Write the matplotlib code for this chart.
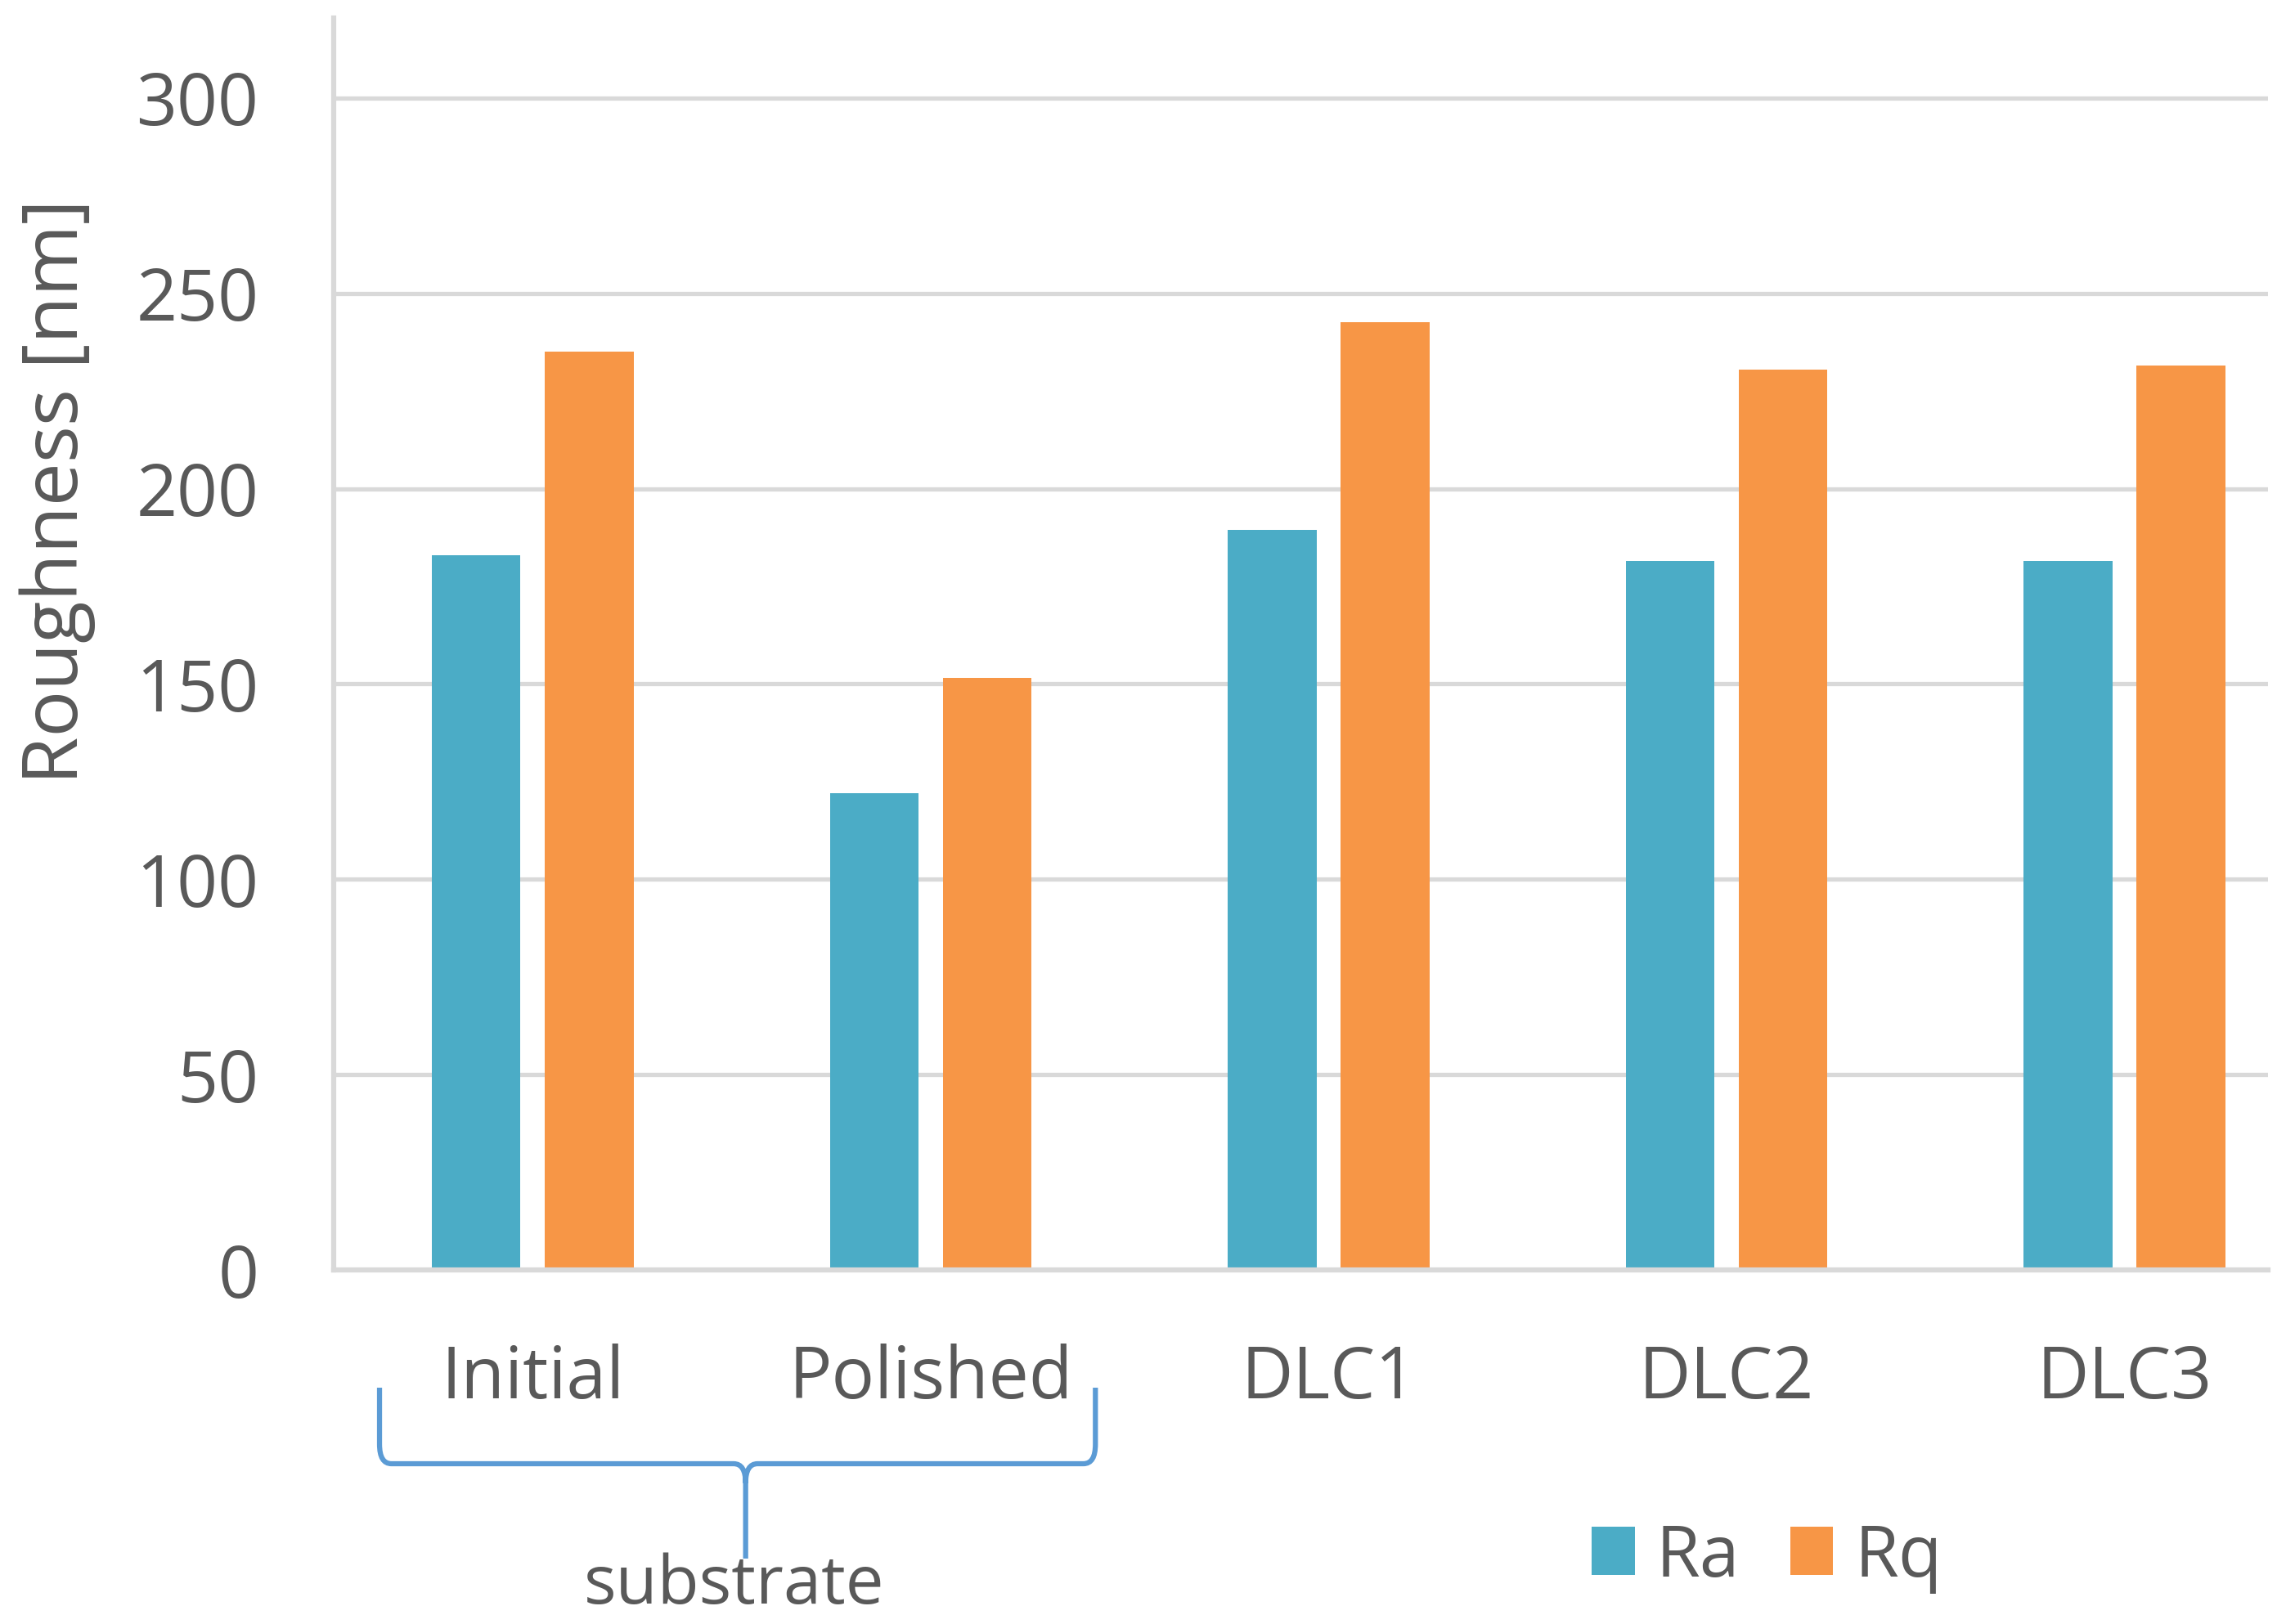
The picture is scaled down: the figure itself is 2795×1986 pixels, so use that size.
import matplotlib
matplotlib.use("Agg")
import matplotlib.pyplot as plt
from matplotlib.transforms import blended_transform_factory
from matplotlib.path import Path
from matplotlib.patches import PathPatch
import numpy as np

categories = ["Initial", "Polished", "DLC1", "DLC2", "DLC3"]
ra_values = [183, 122, 189.5, 181.5, 181.5]
rq_values = [235, 151.5, 242.5, 230.5, 231.5]
series_names = ["Ra", "Rq"]
yticks = [0, 50, 100, 150, 200, 250, 300]
group_label = "substrate"

plt.rcParams['font.family'] = ['Open Sans', 'DejaVu Sans']

TXT = "#595959"
GRID = "#D9D9D9"
C_RA = "#4BACC6"
C_RQ = "#F79646"
BRACE = "#5B9BD5"
FS = 63

fig = plt.figure(figsize=(27.95, 19.86), dpi=100)
ax = fig.add_axes([0.146, 0.218, 0.846, 0.771])

x = np.arange(len(categories))
w = 0.223
off = 0.142
ax.bar(x - off, ra_values, w, color=C_RA, label=series_names[0], zorder=3)
ax.bar(x + off, rq_values, w, color=C_RQ, label=series_names[1], zorder=3)

ax.set_xlim(-0.5, 4.36)
ax.set_ylim(0, 320.5)
ax.set_yticks(yticks)
ax.set_xticks(x)
ax.set_xticklabels(categories)
ax.tick_params(axis='y', length=0, pad=66, labelsize=FS, labelcolor=TXT)
ax.tick_params(axis='x', length=0, pad=65, labelsize=FS, labelcolor=TXT)
ax.grid(axis='y', color=GRID, linewidth=3.8, zorder=0)
ax.set_axisbelow(True)
for s in ['top', 'right']:
    ax.spines[s].set_visible(False)
ax.spines['left'].set_color(GRID)
ax.spines['left'].set_linewidth(4.5)
ax.spines['bottom'].set_color(GRID)
ax.spines['bottom'].set_linewidth(4.5)
ax.spines['bottom'].set_zorder(4)

ax.set_ylabel("Roughness [nm]", fontsize=68, color=TXT)
ax.yaxis.set_label_coords(-0.123, 0.622)

# brace under first two categories
tr = blended_transform_factory(ax.transData, fig.transFigure)
xl, xr = -0.385, 1.414
xc = 0.535
yt = 1 - 1697/1986
yh = 1 - 1790/1986
yb = 1 - 1906/1986
dx = 0.03
dy = 0.012
verts = [
    (xl, yt), (xl, yh + dy), (xl, yh), (xl + dx, yh),
    (xc - dx, yh), (xc, yh), (xc, yh - dy), (xc, yb),
    (xc, yh - dy), (xc, yh), (xc + dx, yh),
    (xr - dx, yh), (xr, yh), (xr, yh + dy), (xr, yt),
]
codes = [Path.MOVETO, Path.LINETO, Path.CURVE3, Path.CURVE3,
         Path.LINETO, Path.CURVE3, Path.CURVE3, Path.LINETO,
         Path.MOVETO, Path.CURVE3, Path.CURVE3,
         Path.LINETO, Path.CURVE3, Path.CURVE3, Path.LINETO]
brace = PathPatch(Path(verts, codes), transform=tr, fill=False,
                  edgecolor=BRACE, linewidth=4.5, clip_on=False)
fig.add_artist(brace)
fig.text(898/2795, 1 - 1940/1986, group_label, ha='center', va='center',
         fontsize=60, color=TXT)

leg = fig.legend(loc='center', bbox_to_anchor=(0.773, 0.041), ncol=2,
                 frameon=False, fontsize=FS, handlelength=0.6,
                 handleheight=0.66, handletextpad=0.3, columnspacing=0.7)
for t in leg.get_texts():
    t.set_color(TXT)

fig.savefig("out.png", dpi=100, facecolor="white")
